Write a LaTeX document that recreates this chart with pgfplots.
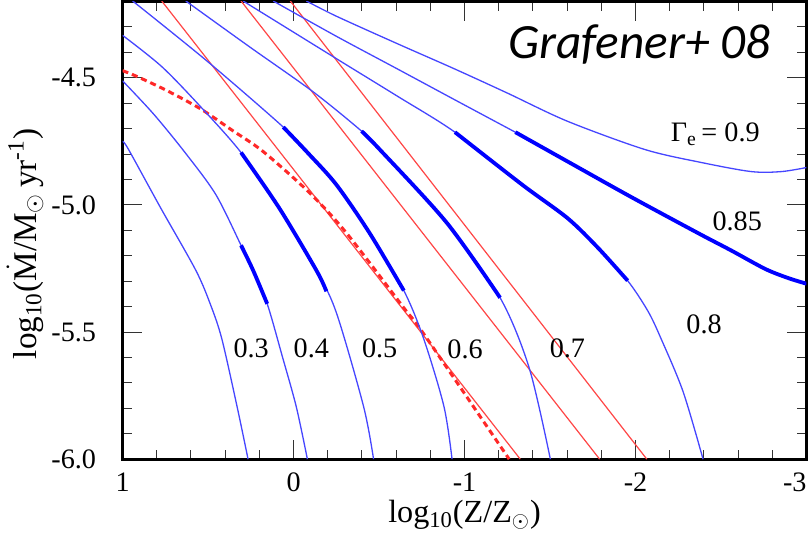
\documentclass[border=0pt]{standalone}
\usepackage{fontspec}
\setmainfont{Liberation Serif}
\newfontfamily\calibri{Carlito}
\usepackage{pgfplots}
\pgfplotsset{compat=1.18}

\definecolor{thinblue}{RGB}{70,70,255}
\definecolor{thickblue}{RGB}{0,0,255}
\definecolor{lred}{RGB}{255,70,70}
\definecolor{dred}{RGB}{255,40,40}

\pgfplotsset{
  thin blue/.style={thinblue, line width=0.65pt, smooth},
  thick blue/.style={thickblue, line width=1.9pt, smooth},
  red line/.style={lred, line width=0.6pt},
}

\begin{document}
\begin{tikzpicture}
\begin{axis}[scale only axis, width=340pt, height=227.5pt,
  x dir=reverse, xmin=-3, xmax=1, ymin=-6, ymax=-4.2,
  xtick={-3,-2,-1,0,1}, xticklabels={{\llap{-3}},-2,-1,0,1},
  ytick={-6,-5.5,-5,-4.5}, yticklabels={-6.0,-5.5,-5.0,-4.5},
  minor xtick={-2.8,-2.6,...,0.81}, minor ytick={-5.9,-5.8,...,-4.25},
  tick align=inside, major tick length=9.5pt, minor tick length=4.5pt,
  every tick/.append style={black!80, line width=0.5pt},
  axis line style={line width=1.5pt},
  tick label style={font=\fontsize{14}{14}\selectfont},
  xticklabel style={inner xsep=0pt, inner ysep=6.5pt},
  yticklabel style={inner xsep=13pt},
  every axis x label/.style={at={(axis description cs:0.5,-0.122)}, anchor=center,
    font=\fontsize{16}{16}\selectfont},
  every axis y label/.style={at={(axis description cs:-0.1425,0.47)}, anchor=center,
    rotate=90, font=\fontsize{16.5}{16.5}\selectfont},
  xlabel={log\textsubscript{10}(Z/Z\textsubscript{\(\odot\)})},
  ylabel={log\textsubscript{10}(\(\dot{\hbox{M}}\)/M\textsubscript{\(\odot\)}\,yr\textsuperscript{-1})},
]

% red power-law lines
\addplot[red line] coordinates {(0.771,-4.198) (-1.326,-6.0)};
\addplot[red line] coordinates {(0.307,-4.198) (-1.790,-6.0)};
\addplot[red line] coordinates {(0.019,-4.198) (-2.066,-6.0)};

% dashed red
\addplot[dred, line width=1.5pt, dash pattern=on 3pt off 2pt, smooth] coordinates {
  (1.000,-4.472) (0.912,-4.496) (0.736,-4.552) (0.542,-4.623) (0.360,-4.706)
  (0.178,-4.790) (-0.093,-4.952) (-0.310,-5.111) (-0.645,-5.405)
  (-0.762,-5.508) (-1.261,-6.0)};

% Gamma_e = 0.3
\addplot[thin blue] coordinates {
  (1.000,-4.750) (0.965,-4.782) (0.777,-5.012) (0.571,-5.258) (0.483,-5.397)
  (0.419,-5.528) (0.330,-5.794) (0.266,-6.000)};

% 0.4
\addplot[thin blue] coordinates {
  (1.000,-4.512) (0.818,-4.643) (0.630,-4.798) (0.454,-4.960) (0.307,-5.159)
  (0.236,-5.258) (0.154,-5.389) (0.066,-5.595) (-0.016,-5.794) (-0.081,-6.0)};
\addplot[thick blue] coordinates {(0.307,-5.159) (0.236,-5.258) (0.154,-5.389)};

% 0.5
\addplot[thin blue] coordinates {
  (1.000,-4.333) (0.771,-4.456) (0.542,-4.615) (0.307,-4.794) (0.084,-5.012)
  (-0.134,-5.258) (-0.251,-5.425) (-0.410,-5.794) (-0.468,-6.0)};
\addplot[thick blue] coordinates {(0.307,-4.794) (0.084,-5.012) (-0.134,-5.258) (-0.192,-5.340)};

% 0.6
\addplot[thin blue] coordinates {
  (0.941,-4.198) (0.501,-4.437) (0.060,-4.694) (-0.087,-4.798) (-0.251,-4.921)
  (-0.445,-5.111) (-0.645,-5.337) (-0.762,-5.528) (-0.880,-5.794)
  (-0.927,-6.0)};
\addplot[thick blue] coordinates {(0.060,-4.694) (-0.087,-4.798) (-0.251,-4.921) (-0.445,-5.111) (-0.645,-5.337)};

% 0.7
\addplot[thin blue] coordinates {
  (0.630,-4.198) (0.260,-4.377) (-0.116,-4.556) (-0.398,-4.710)
  (-0.504,-4.782) (-0.897,-5.071) (-1.208,-5.365) (-1.379,-5.643)
  (-1.502,-6.0)};
\addplot[thick blue] coordinates {(-0.398,-4.710) (-0.504,-4.782) (-0.897,-5.071) (-1.208,-5.365)};

% 0.8
\addplot[thin blue] coordinates {
  (0.295,-4.198) (-0.251,-4.425) (-0.604,-4.571) (-0.944,-4.714)
  (-1.338,-4.921) (-1.602,-5.052) (-1.778,-5.167) (-1.954,-5.298) (-2.072,-5.417)
  (-2.148,-5.524) (-2.278,-5.734) (-2.395,-6.0)};
\addplot[thick blue] coordinates {(-0.944,-4.714) (-1.338,-4.921) (-1.602,-5.052) (-1.778,-5.167) (-1.954,-5.298)};

% 0.85
\addplot[thin blue] coordinates {
  (0.119,-4.198) (-0.251,-4.337) (-0.604,-4.464) (-0.944,-4.587) (-1.297,-4.714)};
\addplot[thick blue] coordinates {
  (-1.297,-4.714) (-1.602,-4.829) (-1.972,-4.968) (-2.366,-5.111) (-2.559,-5.179)
  (-2.759,-5.252) (-2.894,-5.288) (-3.0,-5.310)};

% 0.9
\addplot[thin blue] coordinates {
  (-0.075,-4.198) (-0.251,-4.258) (-0.604,-4.365) (-0.938,-4.464) (-1.250,-4.560)
  (-1.602,-4.671) (-2.054,-4.782) (-2.383,-4.833) (-2.677,-4.869) (-2.853,-4.869)
  (-3.0,-4.853)};

% labels
\begin{scope}[every node/.style={font=\fontsize{14}{14}\selectfont}]
\node at (axis cs:0.248,-5.563) {0.3};
\node at (axis cs:-0.104,-5.563) {0.4};
\node at (axis cs:-0.504,-5.563) {0.5};
\node at (axis cs:-1.003,-5.567) {0.6};
\node at (axis cs:-1.602,-5.563) {0.7};
\node at (axis cs:-2.401,-5.468) {0.8};
\node at (axis cs:-2.595,-5.063) {0.85};
\node at (axis cs:-2.466,-4.722) {Γ\textsubscript{e}\,= 0.9};
\end{scope}
\node[anchor=base east, inner sep=0pt, font=\calibri\itshape\fontsize{24.5}{24.5}\selectfont]
  at (axis cs:-2.794,-4.425) {Grafener+ 08};

% page margins round the axis box
\path (axis description cs:0,0) -- ++(-63.5pt,-44pt);
\path (axis description cs:1,1) -- ++(0pt,6pt);
\end{axis}
\end{tikzpicture}
\end{document}
